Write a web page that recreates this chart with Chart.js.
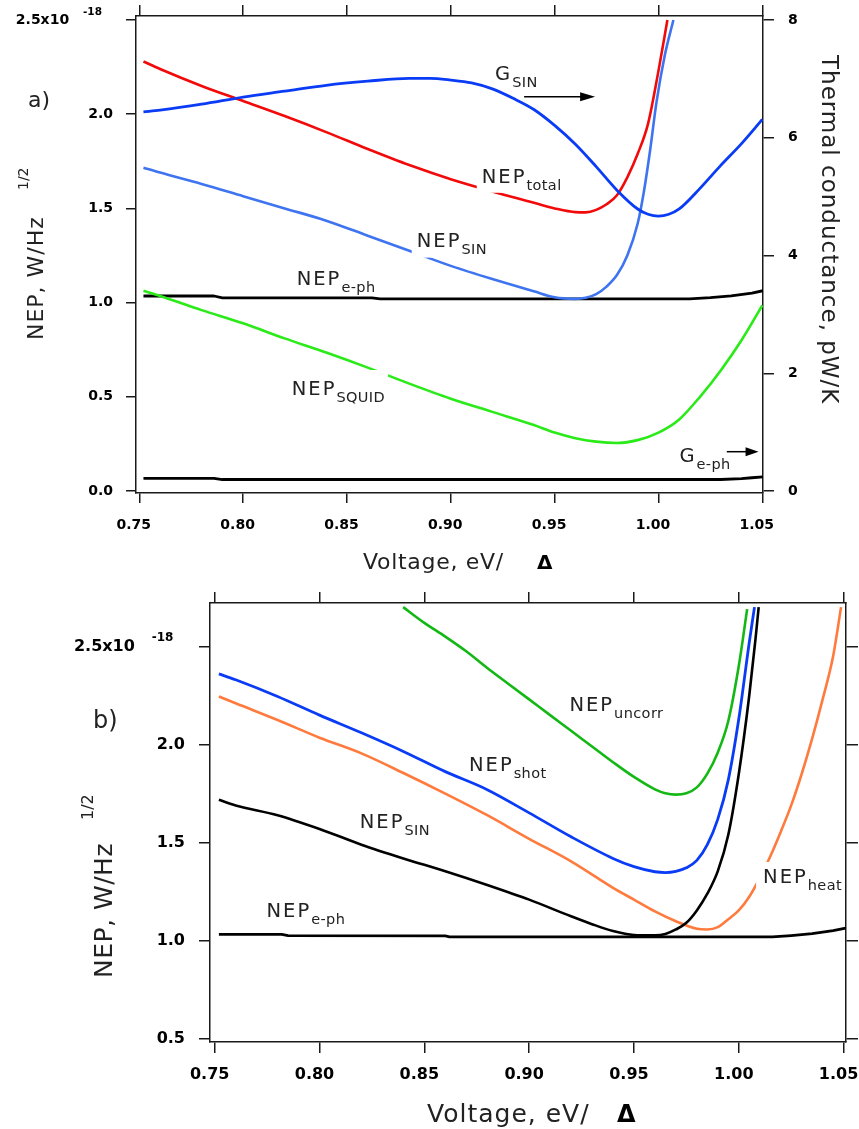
<!DOCTYPE html>
<html><head><meta charset="utf-8">
<script src="https://cdn.jsdelivr.net/npm/chart.js@4.4.1/dist/chart.umd.min.js"></script>
<style>
html,body{margin:0;padding:0;background:#fff;width:859px;height:1129px;overflow:hidden}
.wrap{position:absolute;left:0}
canvas{display:block}
</style></head><body>
<div class="wrap" style="top:0"><canvas id="ca" width="859" height="585"></canvas></div>
<div class="wrap" style="top:585px"><canvas id="cb" width="859" height="544"></canvas></div>
<script>
// ================= DATA =================
// tick values
const xTicks   = [0.75, 0.80, 0.85, 0.90, 0.95, 1.00, 1.05];
const yTicksA  = [0.0, 0.5, 1.0, 1.5, 2.0, 2.5];
const gTicksA  = [0, 2, 4, 6, 8];
const yTicksB  = [0.5, 1.0, 1.5, 2.0, 2.5];

// ---- panel a (NEP in 1e-18 W/Hz^1/2, G in pW/K) ----
const aTotalV = [0.752,0.76,0.78,0.80,0.82,0.84,0.86,0.88,0.90,0.92,0.94,0.95,0.96,0.965,0.97,0.975,0.98,0.985,0.99,0.995,1.0,1.0043];
const aTotalN = [2.28,2.24,2.15,2.07,1.99,1.905,1.815,1.73,1.655,1.59,1.53,1.50,1.48,1.479,1.492,1.522,1.57,1.665,1.79,1.95,2.23,2.50];

const aSinV = [0.752,0.76,0.78,0.80,0.82,0.84,0.86,0.88,0.90,0.92,0.94,0.95,0.96,0.965,0.97,0.975,0.98,0.985,0.99,0.993,0.996,0.999,1.003,1.0072];
const aSinN = [1.716,1.69,1.63,1.565,1.50,1.435,1.355,1.275,1.195,1.125,1.06,1.028,1.02,1.026,1.045,1.085,1.146,1.25,1.42,1.59,1.81,2.06,2.31,2.50];

const aGsinV = [0.752,0.76,0.78,0.80,0.82,0.84,0.86,0.88,0.89,0.90,0.91,0.92,0.93,0.94,0.95,0.96,0.97,0.98,0.99,0.995,1.00,1.005,1.01,1.02,1.03,1.04,1.05];
const aGsinG = [6.44,6.47,6.57,6.69,6.79,6.89,6.96,7.01,7.01,6.98,6.93,6.83,6.67,6.48,6.21,5.89,5.51,5.11,4.79,4.70,4.67,4.70,4.79,5.14,5.53,5.90,6.31];

const aEphV = [0.752,0.786,0.79,0.862,0.866,1.015,1.025,1.035,1.045,1.0503];
const aEphN = [1.035,1.035,1.025,1.025,1.02,1.02,1.026,1.036,1.05,1.063];

const aGephV = [0.752,0.786,0.79,1.03,1.04,1.045,1.0503];
const aGephG = [0.215,0.215,0.195,0.195,0.21,0.225,0.24];

const aSquidV = [0.752,0.76,0.78,0.80,0.82,0.84,0.86,0.88,0.90,0.92,0.94,0.95,0.96,0.97,0.98,0.99,1.00,1.01,1.02,1.03,1.04,1.05];
const aSquidN = [1.063,1.035,0.96,0.89,0.81,0.735,0.655,0.57,0.49,0.42,0.35,0.31,0.28,0.262,0.255,0.27,0.31,0.38,0.50,0.64,0.80,0.985];

// ---- panel b ----
const bSinV = [0.752,0.76,0.78,0.80,0.82,0.84,0.86,0.88,0.90,0.92,0.93,0.94,0.95,0.96,0.965,0.97,0.975,0.98,0.985,0.99,0.995,1.0,1.005,1.008,1.0095];
const bSinN = [1.719,1.69,1.64,1.57,1.49,1.42,1.355,1.285,1.21,1.125,1.085,1.05,1.03,1.028,1.035,1.058,1.092,1.155,1.24,1.355,1.54,1.85,2.25,2.54,2.70];

const bEphV = [0.752,0.782,0.785,0.86,0.862,1.016,1.025,1.035,1.045,1.051];
const bEphN = [1.033,1.033,1.027,1.025,1.02,1.02,1.027,1.037,1.052,1.065];

const bShotV = [0.752,0.76,0.78,0.80,0.82,0.84,0.86,0.88,0.90,0.92,0.94,0.95,0.96,0.965,0.97,0.975,0.98,0.985,0.99,0.995,1.0,1.005,1.0075];
const bShotN = [2.36,2.33,2.245,2.15,2.06,1.965,1.862,1.77,1.652,1.53,1.42,1.378,1.352,1.348,1.354,1.372,1.41,1.49,1.62,1.82,2.13,2.52,2.70];

const bHeatV = [0.752,0.76,0.78,0.80,0.82,0.84,0.86,0.88,0.90,0.92,0.94,0.95,0.96,0.97,0.98,0.985,0.99,0.995,1.0,1.005,1.01,1.015,1.02,1.025,1.03,1.035,1.04,1.045,1.0488];
const bHeatN = [2.245,2.21,2.125,2.035,1.955,1.855,1.75,1.64,1.52,1.405,1.27,1.21,1.15,1.10,1.062,1.058,1.07,1.11,1.155,1.225,1.32,1.43,1.555,1.69,1.85,2.03,2.23,2.45,2.70];

const bUncV = [0.8399,0.85,0.86,0.87,0.88,0.89,0.90,0.91,0.92,0.93,0.94,0.95,0.96,0.965,0.97,0.975,0.98,0.985,0.99,0.995,1.0,1.004];
const bUncN = [2.70,2.62,2.55,2.475,2.39,2.31,2.23,2.15,2.07,1.99,1.91,1.835,1.772,1.752,1.745,1.752,1.782,1.852,1.96,2.12,2.40,2.69];

// ================= RENDERING =================
const FONT = '"DejaVu Sans", Verdana, sans-serif';
const INK = '#222';
Chart.defaults.font.family = FONT;

const pts = (xs, ys) => xs.map((x, i) => ({x: x, y: ys[i]}));
function line(label, xs, ys, color, yAxisID, width, smooth) {
  return {label, data: pts(xs, ys), borderColor: color, backgroundColor: color,
    borderWidth: width, pointRadius: 0, pointHoverRadius: 0, fill: false,
    xAxisID: 'x', yAxisID, tension: 0, cubicInterpolationMode: smooth ? 'monotone' : 'default',
    borderCapStyle: 'butt', borderJoinStyle: 'round'};
}
function axisStyle(tickLength) {
  return {
    grid: {display: true, drawOnChartArea: false, drawTicks: true, tickLength, color: '#1a1a1a', lineWidth: 1.5},
    border: {display: true, color: '#1a1a1a', width: 1.5}
  };
}
function mkX(position, min, max, size, tickLength, labels, fontSize, padding, labelOffset) {
  return Object.assign({
    type: 'linear', position, min, max, offset: false,
    afterBuildTicks: s => { s.ticks = xTicks.map(v => ({value: v})); },
    afterFit: s => { s.height = size; s.paddingLeft = 0; s.paddingRight = 0; },
    ticks: {display: labels, autoSkip: false, maxRotation: 0, minRotation: 0, padding, labelOffset,
      color: '#000', font: {family: FONT, weight: 'bold', size: fontSize},
      callback: v => Number(v).toFixed(2)}
  }, axisStyle(tickLength));
}
function mkY(position, min, max, size, tickLength, tickVals, labels, fontSize, padding, fmt) {
  return Object.assign({
    type: 'linear', position, min, max, offset: false,
    afterBuildTicks: s => { s.ticks = tickVals.map(v => ({value: v})); },
    afterFit: s => { s.width = size; s.paddingTop = 0; s.paddingBottom = 0; },
    ticks: {display: labels, autoSkip: false, padding, color: '#000',
      font: {family: FONT, weight: 'bold', size: fontSize}, callback: fmt}
  }, axisStyle(tickLength));
}
const fmtNEP = v => Math.abs(v - 2.5) < 1e-9 ? '2.5x10' + ' '.repeat(9) : Number(v).toFixed(1);

const annot = {
  id: 'annot',
  afterDraw(chart, _a, o) {
    const ctx = chart.ctx, X = chart.scales.x;
    ctx.save();
    ctx.textAlign = 'left'; ctx.textBaseline = 'alphabetic';
    const setF = (f, ls) => { ctx.font = f; ctx.letterSpacing = ls || '0px'; };
    // curve labels with optional opaque box
    for (const L of o.labels) {
      const Y = chart.scales[L.axis || 'y'];
      const px = X.getPixelForValue(L.x), py = Y.getPixelForValue(L.y);
      setF(o.mainFont, o.mainLS); const w1 = ctx.measureText(L.main).width;
      setF(o.subFont, o.subLS); const w2 = ctx.measureText(L.sub).width;
      if (L.box) {
        const [l, t, r, b] = L.box;
        ctx.fillStyle = '#fff';
        ctx.fillRect(px - l, py - t, w1 + w2 + l + r, t + b);
      }
      ctx.fillStyle = INK;
      setF(o.mainFont, o.mainLS); ctx.fillText(L.main, px, py);
      setF(o.subFont, o.subLS); ctx.fillText(L.sub, px + w1, py + o.subDrop);
    }
    // arrows
    ctx.strokeStyle = '#000'; ctx.fillStyle = '#000'; ctx.lineWidth = 1.5;
    for (const A of (o.arrows || [])) {
      const Y = chart.scales[A.axis || 'y'];
      const x1 = X.getPixelForValue(A.x1), x2 = X.getPixelForValue(A.x2), y = Y.getPixelForValue(A.y);
      ctx.beginPath(); ctx.moveTo(x1, y); ctx.lineTo(x2 - A.len + 1, y); ctx.stroke();
      ctx.beginPath(); ctx.moveTo(x2, y); ctx.lineTo(x2 - A.len, y - A.half); ctx.lineTo(x2 - A.len, y + A.half); ctx.closePath(); ctx.fill();
    }
    // exponent on top tick label
    const Yl = chart.scales.y;
    for (const S of (o.sups || [])) {
      ctx.fillStyle = '#000'; setF(S.font, '0px');
      ctx.fillText(S.t, S.x, Yl.getPixelForValue(S.v) + S.dy);
    }
    // titles and other free text
    for (const T of o.texts) {
      ctx.save();
      ctx.translate(T.x, T.y);
      if (T.rot) ctx.rotate(T.rot * Math.PI / 180);
      ctx.fillStyle = T.color || INK;
      setF(T.font, T.ls);
      ctx.fillText(T.t, T.dx || 0, T.dy || 0);
      ctx.restore();
    }
    ctx.restore();
  }
};

const F = (s, w) => (w ? w + ' ' : '') + s + 'px ' + FONT;

// ---------- chart a ----------
const aMinX = 0.74841, aMaxX = 1.05034, aMinY = -0.0106, aMaxY = 2.5212;
new Chart(document.getElementById('ca'), {
  type: 'line',
  data: {datasets: [
    line('G_SIN', aGsinV, aGsinG, '#0a3cf5', 'y2', 2.8, true),
    line('NEP_total', aTotalV, aTotalN, '#f20a0a', 'y', 2.6, true),
    line('NEP_SIN', aSinV, aSinN, '#3f74f0', 'y', 2.6, true),
    line('NEP_SQUID', aSquidV, aSquidN, '#2aea18', 'y', 2.6, true),
    line('NEP_e-ph', aEphV, aEphN, '#000', 'y', 2.8, false),
    line('G_e-ph', aGephV, aGephG, '#000', 'y2', 2.8, false)
  ]},
  options: {
    responsive: false, animation: false, devicePixelRatio: 1, events: [],
    layout: {padding: 0},
    plugins: {legend: {display: false}, tooltip: {enabled: false},
      annot: {
        mainFont: F(19.5), mainLS: '2px', subFont: F(14.5), subLS: '0.4px', subDrop: 7,
        labels: [
          {x: 0.9213, y: 2.182, main: 'G', sub: 'SIN'},
          {x: 0.9149, y: 1.636, main: 'NEP', sub: 'total', box: [5, 20, 3, 10]},
          {x: 0.8836, y: 1.297, main: 'NEP', sub: 'SIN', box: [5, 20, 3, 11]},
          {x: 0.8258, y: 1.093, main: 'NEP', sub: 'e-ph'},
          {x: 0.8234, y: 0.5096, main: 'NEP', sub: 'SQUID', box: [3, 25, 3, 9]},
          {x: 1.0101, y: 0.1555, main: 'G', sub: 'e-ph'}
        ],
        arrows: [
          {x1: 0.9353, x2: 0.9695, y: 2.093, len: 15, half: 4.5},
          {x1: 1.0329, x2: 1.0482, y: 0.2086, len: 13, half: 4.5}
        ],
        sups: [{t: '-18', x: 83, v: 2.5, dy: -5, font: F(10.5, 'bold')}],
        texts: [
          {t: 'a)', x: 28, y: 107, font: F(22)},
          {t: 'Voltage, eV/', x: 363, y: 569.3, font: F(22), ls: '0.7px'},
          {t: 'Δ', x: 537, y: 569.3, font: F(20, 'bold'), color: '#000'},
          {t: 'NEP, W/Hz', x: 43, y: 340, rot: -90, font: F(22), ls: '1px'},
          {t: '1/2', x: 43, y: 340, rot: -90, dx: 150, dy: -15, font: F(14)},
          {t: 'Thermal conductance, pW/K', x: 821.7, y: 55, rot: 90, font: F(23), ls: '1px'}
        ]
      }
    },
    scales: {
      x: mkX('bottom', aMinX, aMaxX, 92, 10, true, 14, 14, -5.5),
      xTop: mkX('top', aMinX, aMaxX, 16, 11, false, 14, 0, 0),
      y: mkY('left', aMinY, aMaxY, 136, 10, yTicksA, true, 14, 13, fmtNEP),
      y2: mkY('right', aMinY * 3.2, aMaxY * 3.2, 96, 11, gTicksA, true, 14, 14, v => String(v))
    }
  },
  plugins: [annot]
});

// ---------- chart b ----------
const bMinX = 0.74776, bMaxX = 1.05115, bMinY = 0.4847, bMaxY = 2.7211;
new Chart(document.getElementById('cb'), {
  type: 'line',
  data: {datasets: [
    line('NEP_uncorr', bUncV, bUncN, '#14b814', 'y', 2.6, true),
    line('NEP_shot', bShotV, bShotN, '#0a3cf5', 'y', 2.8, true),
    line('NEP_SIN', bSinV, bSinN, '#000', 'y', 2.6, true),
    line('NEP_heat', bHeatV, bHeatN, '#ff7a3d', 'y', 2.6, true),
    line('NEP_e-ph', bEphV, bEphN, '#000', 'y', 2.8, false)
  ]},
  options: {
    responsive: false, animation: false, devicePixelRatio: 1, events: [],
    layout: {padding: 0},
    plugins: {legend: {display: false}, tooltip: {enabled: false},
      annot: {
        mainFont: F(19.5), mainLS: '2px', subFont: F(14.5), subLS: '0.4px', subDrop: 7,
        labels: [
          {x: 0.9192, y: 2.169, main: 'NEP', sub: 'uncorr'},
          {x: 0.8713, y: 1.867, main: 'NEP', sub: 'shot'},
          {x: 0.8192, y: 1.575, main: 'NEP', sub: 'SIN'},
          {x: 0.7747, y: 1.119, main: 'NEP', sub: 'e-ph'},
          {x: 1.0116, y: 1.295, main: 'NEP', sub: 'heat', box: [7, 21, 2, 6]}
        ],
        arrows: [],
        sups: [{t: '-18', x: 151.7, v: 2.5, dy: -5, font: F(12, 'bold')}],
        texts: [
          {t: 'b)', x: 93, y: 143.3, font: F(24)},
          {t: 'Voltage, eV/', x: 427, y: 536.7, font: F(25), ls: '1px'},
          {t: 'Δ', x: 617, y: 536.7, font: F(24, 'bold'), color: '#000'},
          {t: 'NEP, W/Hz', x: 112, y: 393, rot: -90, font: F(25), ls: '0.5px'},
          {t: '1/2', x: 112, y: 393, rot: -90, dx: 158, dy: -19, font: F(16)}
        ]
      }
    },
    scales: {
      x: mkX('bottom', bMinX, bMaxX, 87, 11, true, 16, 12, -5),
      xTop: mkX('top', bMinX, bMaxX, 18, 11, false, 16, 0, 0),
      y: mkY('left', bMinY, bMaxY, 210, 11, yTicksB, true, 16, 14, fmtNEP),
      y2: mkY('right', bMinY, bMaxY, 13, 12, yTicksB, false, 16, 0, () => '')
    }
  },
  plugins: [annot]
});
</script>
</body></html>
